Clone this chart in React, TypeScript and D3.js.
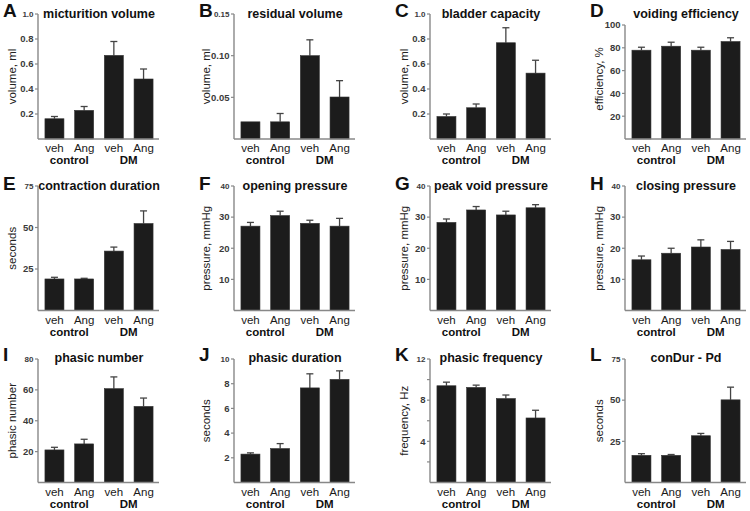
import React from "react";
import * as d3 from "d3";

const categories = ["veh", "Ang", "veh", "Ang"];
const groups = ["control", "DM"];
const letters = ["A", "B", "C", "D", "E", "F", "G", "H", "I", "J", "K", "L"];
const titles = [
  "micturition volume", "residual volume", "bladder capacity", "voiding efficiency",
  "contraction duration", "opening pressure", "peak void pressure", "closing pressure",
  "phasic number", "phasic duration", "phasic frequency", "conDur - Pd",
];
const yLabels = [
  "volume, ml", "volume, ml", "volume, ml", "efficiency, %",
  "seconds", "pressure, mmHg", "pressure, mmHg", "pressure, mmHg",
  "phasic number", "seconds", "frequency, Hz", "seconds",
];

const micturitionVolume = [0.162, 0.229, 0.669, 0.48];
const micturitionVolumeSem = [0.018, 0.031, 0.111, 0.08];
const residualVolume = [0.0206, 0.0206, 0.1, 0.0504];
const residualVolumeSem = [0, 0.01, 0.019, 0.0196];
const bladderCapacity = [0.18, 0.25, 0.77, 0.527];
const bladderCapacitySem = [0.02, 0.03, 0.12, 0.103];
const voidingEfficiency = [77.9, 81.4, 77.9, 85.5];
const voidingEfficiencySem = [2.6, 3.5, 2.6, 3.3];
const contractionDuration = [19, 19, 35.8, 52.4];
const contractionDurationSem = [1, 0.4, 2.4, 7.6];
const openingPressure = [27.1, 30.5, 28, 27.1];
const openingPressureSem = [1.2, 1.4, 1, 2.5];
const peakVoidPressure = [28.3, 32.3, 30.7, 33];
const peakVoidPressureSem = [1.1, 1.1, 1.2, 1];
const closingPressure = [16.3, 18.4, 20.4, 19.6];
const closingPressureSem = [1.2, 1.6, 2.3, 2.6];
const phasicNumber = [21.1, 25, 60.8, 49.3];
const phasicNumberSem = [1.7, 3, 7.6, 5.4];
const phasicDuration = [2.3, 2.75, 7.66, 8.35];
const phasicDurationSem = [0.1, 0.4, 1.14, 0.69];
const phasicFrequency = [9.4, 9.24, 8.16, 6.27];
const phasicFrequencySem = [0.35, 0.22, 0.34, 0.75];
const conDurPd = [16.5, 16.5, 28.4, 50.2];
const conDurPdSem = [1, 0.5, 1.4, 7.7];

const yMaxes = [1, 0.15, 1, 100, 75, 40, 40, 40, 80, 10, 12, 75];
const yTickSteps = [0.2, 0.05, 0.2, 20, 25, 10, 10, 10, 20, 2, 2, 25];
const yLabelSteps = [0.2, 0.05, 0.2, 20, 25, 10, 10, 10, 20, 2, 4, 25];
const yFormats = [".1f", ".2f", ".1f", "d", "d", "d", "d", "d", "d", "d", "d", "d"];

const meansList = [
  micturitionVolume, residualVolume, bladderCapacity, voidingEfficiency,
  contractionDuration, openingPressure, peakVoidPressure, closingPressure,
  phasicNumber, phasicDuration, phasicFrequency, conDurPd,
];
const semList = [
  micturitionVolumeSem, residualVolumeSem, bladderCapacitySem, voidingEfficiencySem,
  contractionDurationSem, openingPressureSem, peakVoidPressureSem, closingPressureSem,
  phasicNumberSem, phasicDurationSem, phasicFrequencySem, conDurPdSem,
];

// layout
const colX = [38, 234, 430, 625];
const yLabelOff = [22, 24, 22, 22];
const rowTop = [14, 186, 359];
const rowBase = [139, 310.5, 482.5];
const titleBase = [17.5, 189.5, 362];
const letterBase = [17, 190, 361];

const FONT = "'Liberation Sans', Arial, Helvetica, sans-serif";

function Panel({ idx }: { idx: number }) {
  const col = idx % 4;
  const row = Math.floor(idx / 4);
  const ax = colX[col];
  const base = rowBase[row];
  const top = idx === 3 ? 25 : rowTop[row];
  const yMax = yMaxes[idx];
  const y = d3.scaleLinear().domain([0, yMax]).range([base, top]);
  const x = d3
    .scaleBand<number>()
    .domain([0, 1, 2, 3])
    .range([ax + 1, ax + 121])
    .paddingInner(0.36)
    .paddingOuter(0.2);
  const step = yTickSteps[idx];
  const lstep = yLabelSteps[idx];
  const n = Math.round(yMax / step);
  const ticks = d3.range(1, n + 1).map((i) => i * step);
  const fmt = d3.format(yFormats[idx]);
  const means = meansList[idx];
  const sems = semList[idx];
  const bw = x.bandwidth();
  const mid = (top + base) / 2;
  const smallTop = idx !== 3;
  return (
    <g>
      <text x={ax - 35} y={letterBase[row]} fontSize={19} fontWeight="bold" fill="#111" fontFamily={FONT}>
        {letters[idx]}
      </text>
      <text x={ax + 61} y={titleBase[row]} fontSize={12.5} fontWeight="bold" fill="#111" textAnchor="middle" fontFamily={FONT}>
        {titles[idx]}
      </text>
      <text
        transform={`translate(${ax - yLabelOff[col]},${idx === 3 ? mid - 3 : mid}) rotate(-90)`}
        fontSize={11.5}
        fill="#222"
        textAnchor="middle"
        fontFamily={FONT}
      >
        {yLabels[idx]}
      </text>
      {ticks.map((t, i) => {
        const isLabel = Math.abs(t / lstep - Math.round(t / lstep)) < 1e-6;
        const isTop = i === ticks.length - 1;
        return (
          <g key={i}>
            <line x1={ax - 3} x2={ax} y1={y(t)} y2={y(t)} stroke="#888" strokeWidth={1.2} />
            {isLabel && (
              <text
                x={ax - 4.5}
                y={y(t)}
                dy="0.35em"
                textAnchor="end"
                fontSize={isTop && smallTop ? 8 : 9.5}
                fontWeight="bold"
                fill="#3a3a3a"
                fontFamily={FONT}
              >
                {fmt(t)}
              </text>
            )}
          </g>
        );
      })}
      {means.map((m, i) => {
        const cx = (x(i) as number) + bw / 2;
        const e = sems[i];
        return (
          <g key={i}>
            {e > 0 && (
              <g stroke="#444" strokeWidth={1.3}>
                <line x1={cx} x2={cx} y1={y(m)} y2={y(m + e)} />
                <line x1={cx - 3.5} x2={cx + 3.5} y1={y(m + e)} y2={y(m + e)} />
              </g>
            )}
            <rect x={x(i)} y={y(m)} width={bw} height={base - y(m)} fill="#1c1c1c" stroke="#333" strokeWidth={0.6} />
          </g>
        );
      })}
      <line x1={ax} x2={ax} y1={top} y2={base} stroke="#888" strokeWidth={1.4} />
      <line x1={ax} x2={ax + 121} y1={base} y2={base} stroke="#888" strokeWidth={1.4} />
      {categories.map((c, i) => (
        <text
          key={i}
          x={(x(i) as number) + bw / 2}
          y={base + 13}
          textAnchor="middle"
          fontSize={11.5}
          fill="#1a1a1a"
          fontFamily={FONT}
        >
          {c}
        </text>
      ))}
      {groups.map((g, gi) => {
        const c1 = (x(gi * 2) as number) + bw / 2;
        const c2 = (x(gi * 2 + 1) as number) + bw / 2;
        return (
          <text
            key={gi}
            x={(c1 + c2) / 2}
            y={base + 25}
            textAnchor="middle"
            fontSize={11.5}
            fontWeight="bold"
            fill="#111"
            fontFamily={FONT}
          >
            {g}
          </text>
        );
      })}
    </g>
  );
}

export default function App() {
  return (
    <svg
      width={750}
      height={511}
      viewBox="0 0 750 511"
      style={{ position: "absolute", left: 0, top: 0, background: "#fff" }}
    >
      <rect width={750} height={511} fill="#fff" />
      {letters.map((_, i) => (
        <Panel key={i} idx={i} />
      ))}
    </svg>
  );
}
